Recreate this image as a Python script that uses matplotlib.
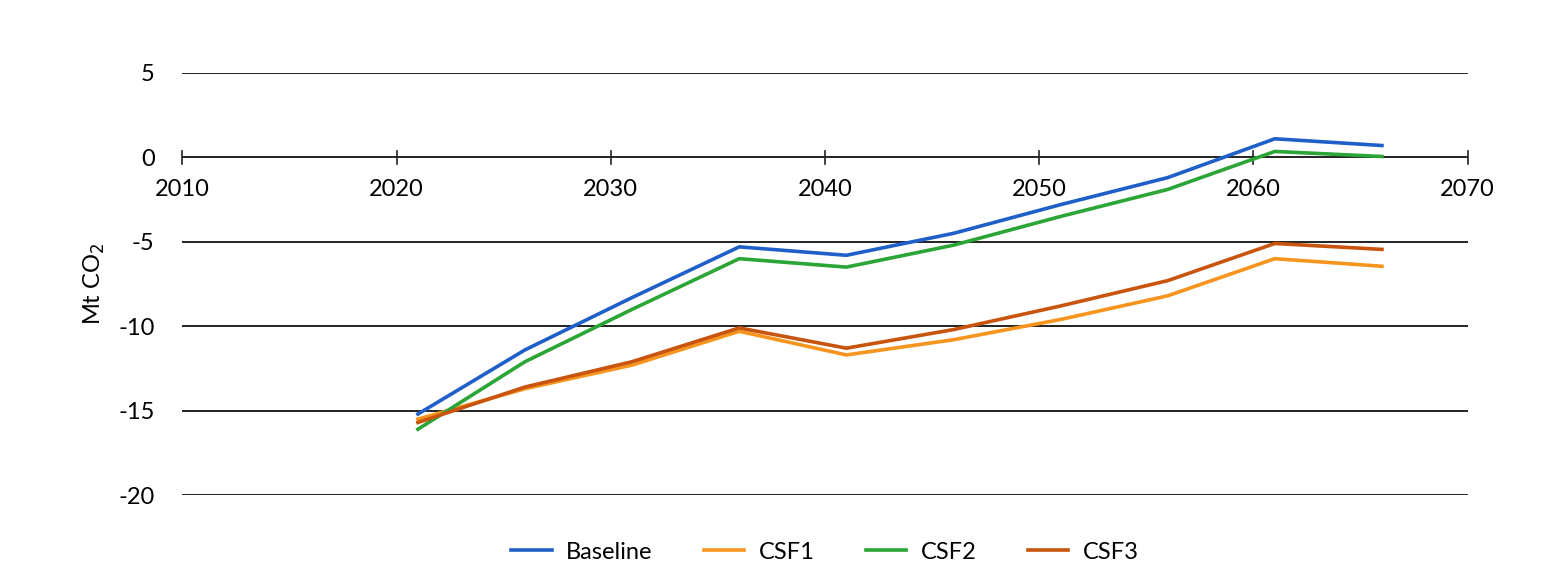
import matplotlib
matplotlib.use("Agg")
import matplotlib.pyplot as plt

years = [2021, 2026, 2031, 2036, 2041, 2046, 2051, 2056, 2061, 2066]
baseline = [-15.2, -11.4, -8.3, -5.3, -5.8, -4.5, -2.8, -1.2, 1.1, 0.7]
csf1 = [-15.5, -13.7, -12.3, -10.3, -11.7, -10.8, -9.6, -8.2, -6.0, -6.45]
csf2 = [-16.1, -12.1, -9.0, -6.0, -6.5, -5.2, -3.5, -1.9, 0.35, 0.05]
csf3 = [-15.7, -13.6, -12.1, -10.1, -11.3, -10.2, -8.8, -7.3, -5.1, -5.45]
yticks = [5, 0, -5, -10, -15, -20]
xticks = list(range(2010, 2071, 10))

plt.rcParams['font.family'] = ['Lato', 'DejaVu Sans']
fig = plt.figure(figsize=(15.58, 5.88), dpi=100)
ax = fig.add_axes([0.117, 0.158, 0.825, 0.718])

for y in yticks:
    if y != 0:
        ax.axhline(y, color="#222222", lw=1.4, zorder=1)
ax.axhline(0, color="#222222", lw=1.4, zorder=1)

series = [("Baseline", baseline, "#1f5fc8"), ("CSF1", csf1, "#f7941d"),
          ("CSF2", csf2, "#2aa536"), ("CSF3", csf3, "#c8540e")]
for label, vals, col in series:
    ax.plot(years, vals, color=col, lw=2.6, label=label, zorder=3)

ax.set_xlim(2010, 2070)
ax.set_ylim(-20, 5)
for s in ax.spines.values():
    s.set_visible(False)
ax.set_yticks(yticks)
ax.set_yticklabels([str(v) for v in yticks], fontsize=17)
ax.tick_params(axis="y", length=0, pad=20)
ax.set_xticks([])
for x in xticks:
    ax.plot([x, x], [-0.4, 0.4], color="#222222", lw=1.2, clip_on=False, zorder=2)
    ax.text(x, -1.3, str(x), ha="center", va="top", fontsize=17)
ax.set_ylabel("Mt CO$_2$", fontsize=17, labelpad=8)

ax.legend(loc="upper center", bbox_to_anchor=(0.5, -0.06), ncol=4, frameon=False,
          fontsize=17, handlelength=1.7, handletextpad=0.6, columnspacing=2.2)
fig.savefig("out.png", dpi=100)
